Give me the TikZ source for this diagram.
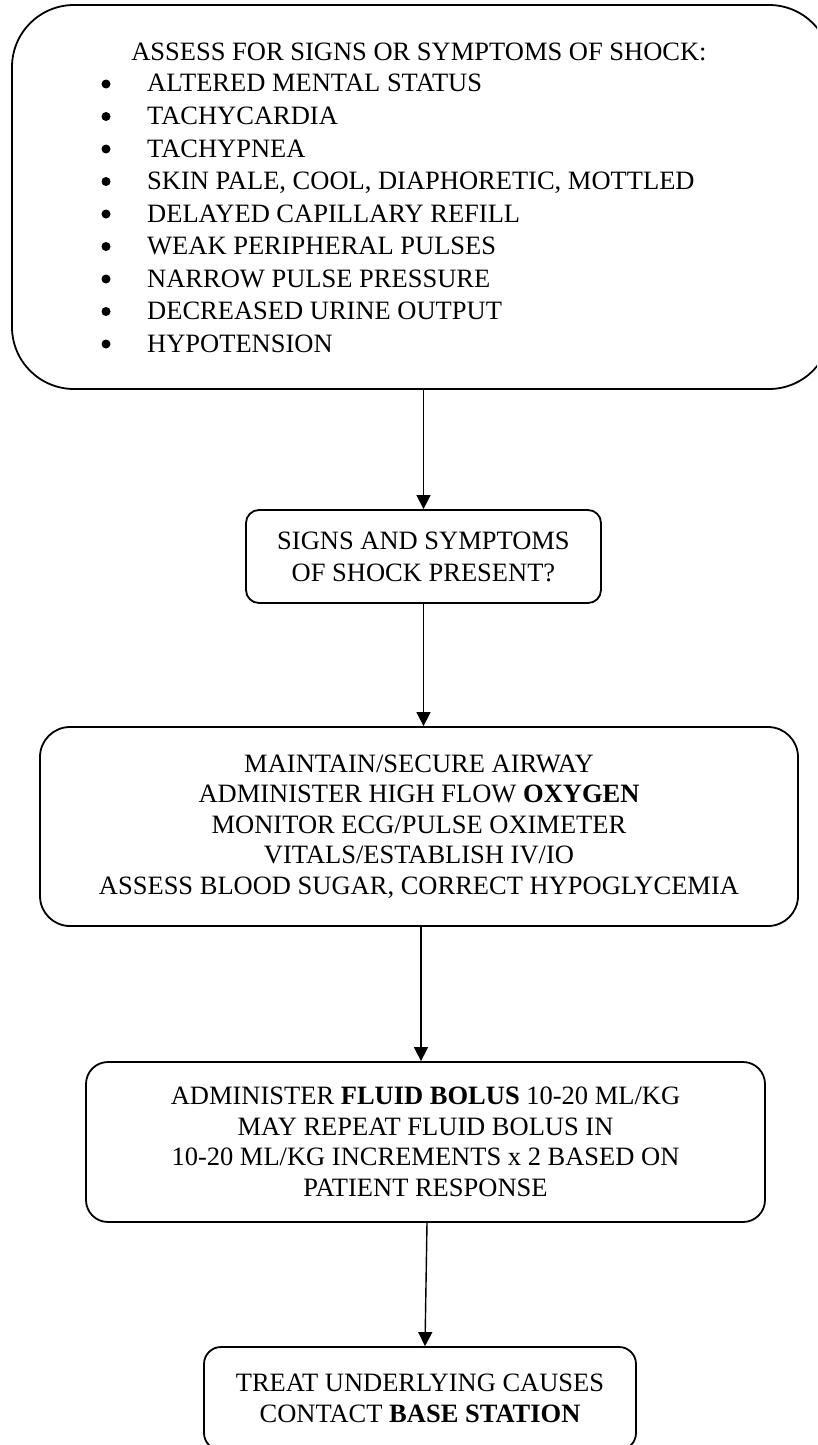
\documentclass[tikz,border=0pt]{standalone}
\usepackage{fontspec}
\setmainfont{Liberation Serif}
\usetikzlibrary{arrows.meta}

\tikzset{
  flowbox/.style={draw, line width=1.8pt, rounded corners=#1, inner sep=0pt, align=center,
    font=\fontsize{26.5}{30.6}\selectfont},
  flowline/.style={line width=1.4pt, -{Triangle[width=14pt,length=14pt]}},
  listtext/.style={anchor=base west, inner sep=0pt, font=\fontsize{26.5}{31}\selectfont},
  listhead/.style={anchor=base, inner sep=0pt, font=\fontsize{26.5}{31}\selectfont},
  listdot/.style={circle, fill, inner sep=0pt, minimum size=9pt},
}

\begin{document}
\begin{tikzpicture}[x=1pt,y=-1pt]
\useasboundingbox (0,0) rectangle (817,1445);
\clip (0,0) rectangle (817,1445);

% assessment box
\node[flowbox=62pt, minimum width=819pt, minimum height=384pt] (assess) at (421.5,197) {};
\node[listhead] (assesshead) at (419,60) {ASSESS FOR SIGNS OR SYMPTOMS OF SHOCK:};

\node[listdot] (dot1) at (106,84) {};
\node[listtext] (item1) at (147,92) {ALTERED MENTAL STATUS};
\node[listdot] (dot2) at (106,116.5) {};
\node[listtext] (item2) at (147,124.5) {TACHYCARDIA};
\node[listdot] (dot3) at (106,149) {};
\node[listtext] (item3) at (147,157) {TACHYPNEA};
\node[listdot] (dot4) at (106,181.5) {};
\node[listtext] (item4) at (147,189.5) {SKIN PALE, COOL, DIAPHORETIC, MOTTLED};
\node[listdot] (dot5) at (106,214) {};
\node[listtext] (item5) at (147,222) {DELAYED CAPILLARY REFILL};
\node[listdot] (dot6) at (106,246.5) {};
\node[listtext] (item6) at (147,254.5) {WEAK PERIPHERAL PULSES};
\node[listdot] (dot7) at (106,279) {};
\node[listtext] (item7) at (147,287) {NARROW PULSE PRESSURE};
\node[listdot] (dot8) at (106,311.5) {};
\node[listtext] (item8) at (147,319.5) {DECREASED URINE OUTPUT};
\node[listdot] (dot9) at (106,344) {};
\node[listtext] (item9) at (147,352) {HYPOTENSION};

% decision
\node[flowbox=13pt, minimum width=355pt, minimum height=93pt,
  font=\fontsize{26.5}{32}\selectfont] (present) at (423.5,556.5)
  {SIGNS AND SYMPTOMS\\OF SHOCK PRESENT?};

% airway / oxygen
\node[flowbox=30pt, minimum width=758pt, minimum height=199pt] (airway) at (419,826.5)
  {MAINTAIN/SECURE AIRWAY\\ADMINISTER HIGH FLOW \textbf{OXYGEN}\\MONITOR ECG/PULSE OXIMETER\\
   VITALS/ESTABLISH IV/IO\\ASSESS BLOOD SUGAR, CORRECT HYPOGLYCEMIA};

% fluid bolus
\node[flowbox=22pt, minimum width=679pt, minimum height=160pt] (fluid) at (425.5,1142)
  {ADMINISTER \textbf{FLUID BOLUS} 10-20 ML/KG\\MAY REPEAT FLUID BOLUS IN\\
   10-20 ML/KG INCREMENTS x 2 BASED ON\\PATIENT RESPONSE};

% underlying causes
\node[flowbox=17pt, minimum width=432pt, minimum height=103pt] (treat) at (420,1398.5)
  {TREAT UNDERLYING CAUSES\\CONTACT \textbf{BASE STATION}};

\draw[flowline] (present.north |- assess.south) -- (present.north);
\draw[flowline] (present.south) -- (present.south |- airway.north);
\draw[flowline] ([xshift=2pt]airway.south) -- ([xshift=2pt]airway.south |- fluid.north);
\draw[flowline] ([xshift=1.5pt]fluid.south) -- ([xshift=5pt]treat.north);

\end{tikzpicture}
\end{document}
